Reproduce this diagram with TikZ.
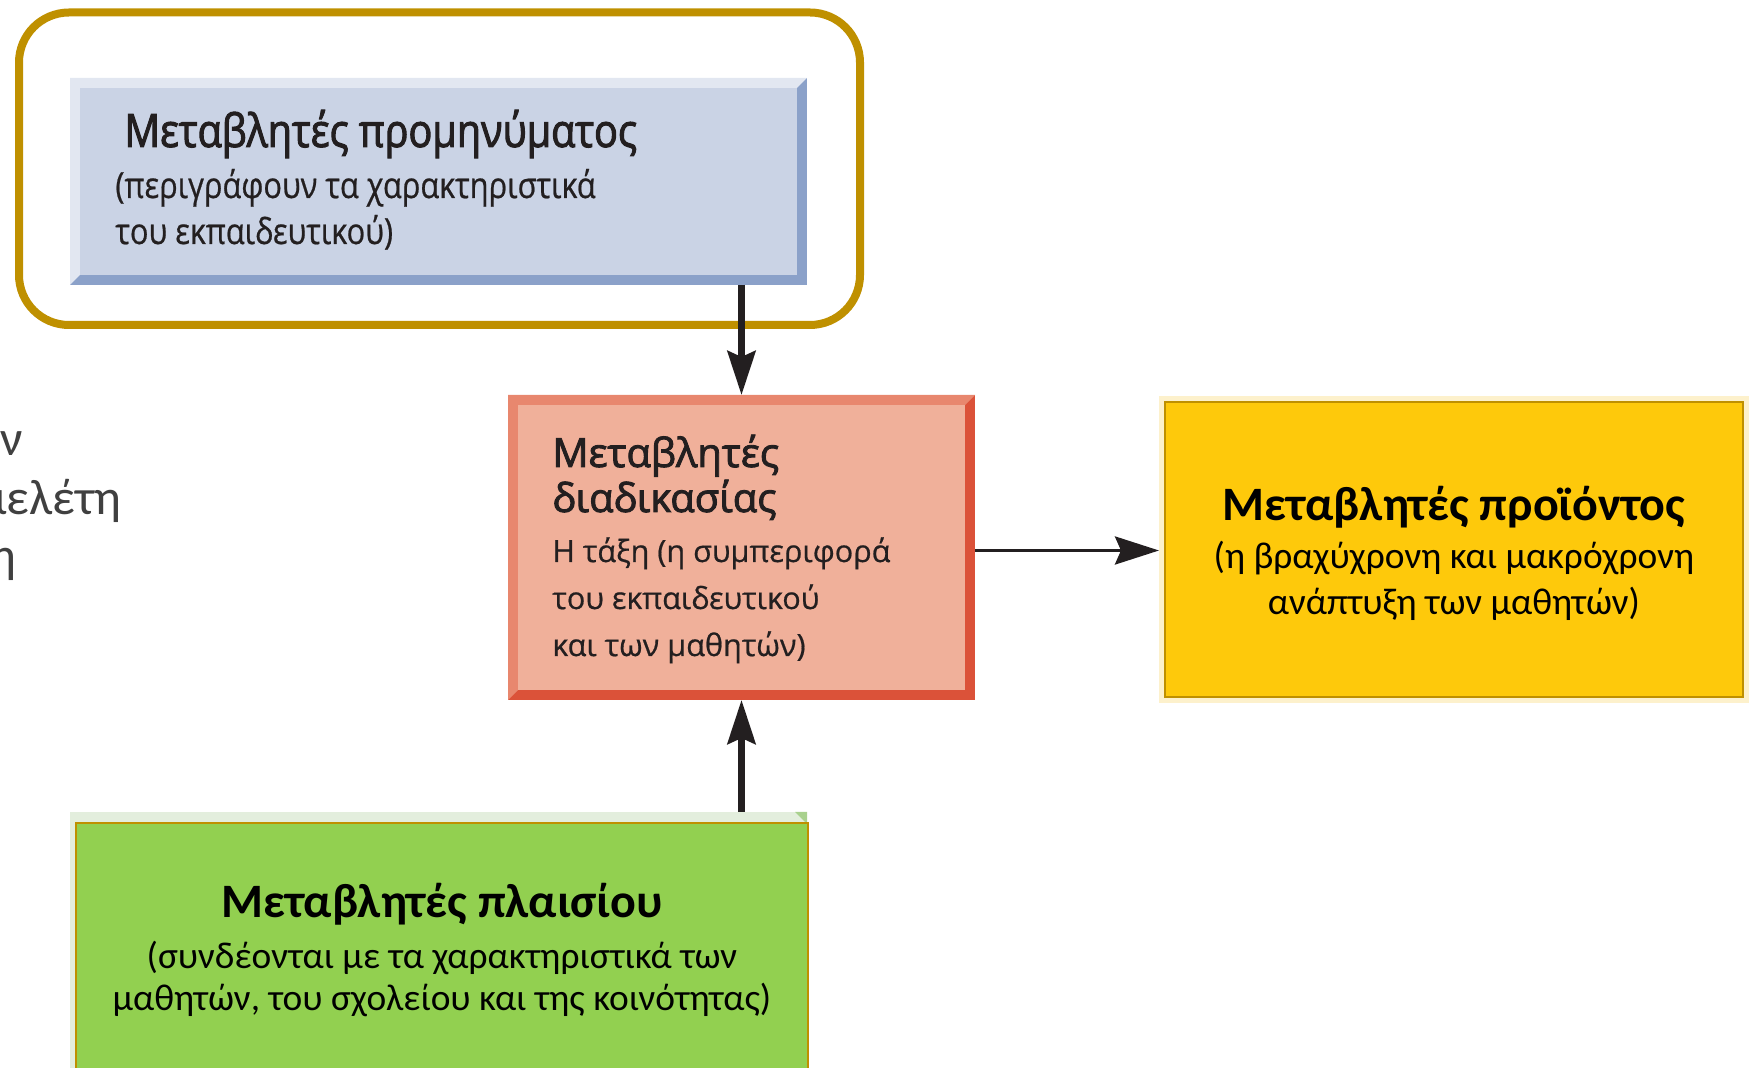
\documentclass[tikz,border=0pt]{standalone}
\usepackage{fontspec}
\setmainfont{Carlito}
\newfontfamily\myr[FakeBold=0.6]{Open Sans}
\newfontfamily\myrsb[FakeBold=2.2]{Open Sans}
\newfontfamily\myrc[FakeStretch=0.855,FakeBold=0.6]{Open Sans}
\newfontfamily\myrcsb[FakeStretch=0.86,FakeBold=2.2]{Open Sans}
\usetikzlibrary{arrows.meta,fit}
\definecolor{goldframe}{HTML}{BF9000}
\definecolor{bluefill}{HTML}{CAD3E5}
\definecolor{bluelight}{HTML}{E2E7F1}
\definecolor{bluedark}{HTML}{8BA1C9}
\definecolor{salfill}{HTML}{F0B09A}
\definecolor{sallight}{HTML}{E8876E}
\definecolor{saldark}{HTML}{DB5239}
\definecolor{yelfill}{HTML}{FEC90B}
\definecolor{yelglow}{HTML}{FDF1CC}
\definecolor{grnfill}{HTML}{92D050}
\definecolor{grnback}{HTML}{E3EEDD}
\definecolor{grnbevel}{HTML}{A9D18E}
\definecolor{booktxt}{HTML}{231F20}
\definecolor{graytxt}{HTML}{404040}
\newcommand\bevelbox[4]{%
  \fill[#3] (#1.north west) rectangle (#1.south east);
  \fill[#2] (#1.north west) -- (#1.north east) -- ([shift={(-10,10)}]#1.north east)
     -- ([shift={(10,10)}]#1.north west) -- ([shift={(10,-10)}]#1.south west)
     -- (#1.south west) -- cycle;
  \fill[#4] ([shift={(10,10)}]#1.north west) rectangle ([shift={(-10,-10)}]#1.south east);
}
\begin{document}
\begin{tikzpicture}[x=0.5pt,y=-0.5pt,
  box/.style={inner sep=0pt, outer sep=0pt},
  txt/.style={inner sep=0pt, text=booktxt},
  lefttxt/.style={inner sep=0pt, anchor=base east, text=graytxt, font=\fontsize{25}{29}\selectfont},
  arr/.style={line width=3.3pt, draw=booktxt, -{Stealth[length=22pt,width=14pt,inset=3pt]}}]
\useasboundingbox (0,0) rectangle (1752,1068);
\clip (0,0) rectangle (1752,1068);

% left clipped text
\node[lefttxt] (l1) at (23,456) {ν};
\node[lefttxt] (l2) at (122,515) {μελέτη};
\node[lefttxt] (l3) at (17,573) {η};

% gold frame
\node[box, fit={(19,12.5)(860,325)}, draw=goldframe, line width=4pt, rounded corners=25pt] (frame) {};

% blue box
\node[box, fit={(70,78)(807,285)}] (pre) {};
\bevelbox{pre}{bluelight}{bluedark}{bluefill}
\node[txt, anchor=base west, font=\myrcsb\fontsize{23}{27}\selectfont] (pret) at (124,147) {Μεταβλητές προμηνύματος};
\node[txt, anchor=base west, font=\myrc\fontsize{18}{22}\selectfont] (pre1) at (115,198) {(περιγράφουν τα χαρακτηριστικά};
\node[txt, anchor=base west, font=\myrc\fontsize{18}{22}\selectfont] (pre2) at (115,244) {του εκπαιδευτικού)};

% salmon box
\node[box, fit={(508,395)(975,700)}] (proc) {};
\bevelbox{proc}{sallight}{saldark}{salfill}
\node[txt, anchor=base west, font=\myrsb\fontsize{20}{24}\selectfont] (proct1) at (552,467) {Μεταβλητές};
\node[txt, anchor=base west, font=\myrsb\fontsize{20}{24}\selectfont] (proct2) at (552,512) {διαδικασίας};
\node[txt, anchor=base west, font=\myr\fontsize{15.3}{19}\selectfont] (proc1) at (552,562) {Η τάξη (η συμπεριφορά};
\node[txt, anchor=base west, font=\myr\fontsize{15.3}{19}\selectfont] (proc2) at (552,609) {του εκπαιδευτικού};
\node[txt, anchor=base west, font=\myr\fontsize{15.3}{19}\selectfont] (proc3) at (552,656) {και των μαθητών)};

% yellow box
\node[box, fit={(1159,396)(1749,703)}, fill=yelglow] (prodglow) {};
\node[box, fit={(1165,402)(1743,697)}, fill=yelfill, draw=goldframe, line width=1.2pt] (prod) {};
\node[inner sep=0pt, anchor=base, font=\bfseries\fontsize{24}{28}\selectfont] (prodt) at (1454,521) {Μεταβλητές προϊόντος};
\node[inner sep=0pt, anchor=base, font=\fontsize{18.7}{22}\selectfont] (prod1) at (1454,569) {(η βραχύχρονη και μακρόχρονη};
\node[inner sep=0pt, anchor=base, font=\fontsize{18.7}{22}\selectfont] (prod2) at (1454,615) {ανάπτυξη των μαθητών)};

% green box
\node[box, fit={(70,812)(807,1100)}, fill=grnback] (ctxback) {};
\fill[grnbevel] (ctxback.north east) -- ([shift={(-12,0)}]ctxback.north east) -- ([shift={(0,12)}]ctxback.north east) -- cycle;
\node[box, fit={(76,823)(808,1100)}, fill=grnfill, draw=goldframe, line width=1pt] (ctx) {};
\node[inner sep=0pt, anchor=base, font=\bfseries\fontsize{24}{28}\selectfont] (ctxt) at (442,918) {Μεταβλητές πλαισίου};
\node[inner sep=0pt, anchor=base, font=\fontsize{18.7}{22}\selectfont] (ctx1) at (442,969) {(συνδέονται με τα χαρακτηριστικά των};
\node[inner sep=0pt, anchor=base, font=\fontsize{18.7}{22}\selectfont] (ctx2) at (442,1011) {μαθητών, του σχολείου και της κοινότητας)};

% arrows
\draw[arr] (pre.south -| proc.north) -- (proc.north);
\draw[arr] (ctxback.north -| proc.south) -- (proc.south);
\draw[arr, line width=1.8pt, shorten >=3pt] ([yshift=-1.5pt]proc.east) -- ([yshift=-1.5pt]proc.east -| prod.west);
\end{tikzpicture}
\end{document}
